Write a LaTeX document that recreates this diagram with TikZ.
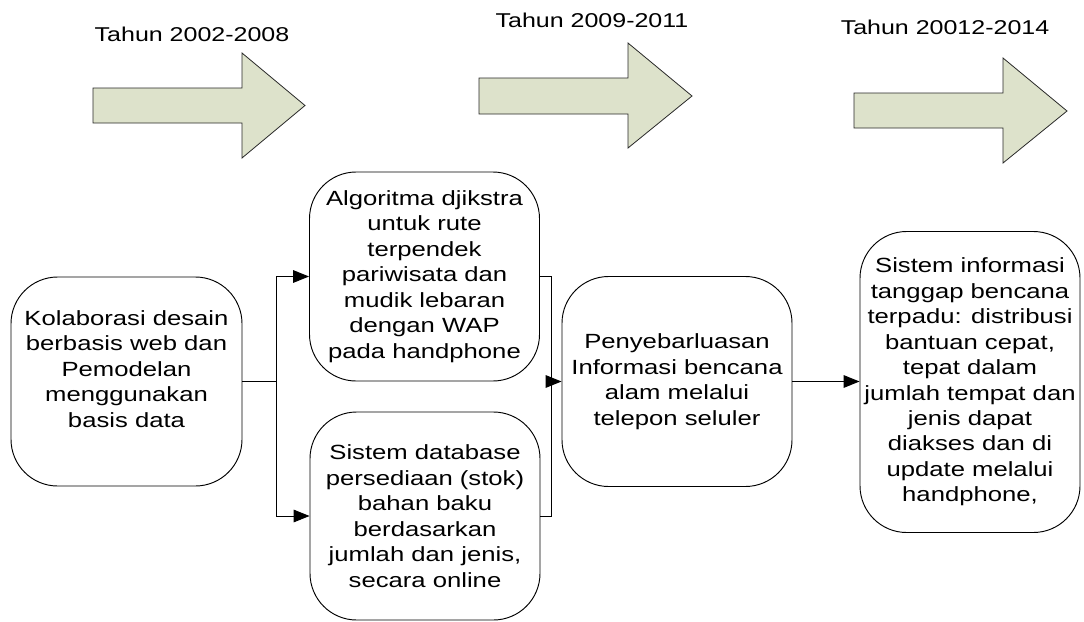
\documentclass[tikz,border=0pt]{standalone}
\usepackage{fontspec}
\setmainfont{Liberation Sans}[FakeStretch=1.25]
\usetikzlibrary{arrows.meta}
\definecolor{arrowfill}{RGB}{221,226,203}
\definecolor{arrowline}{RGB}{40,40,40}
\tikzset{
  rbox/.style={draw=black, line width=0.7pt, rounded corners=35pt, inner sep=0pt,
    align=center, font=\fontsize{15.4pt}{19.1pt}\selectfont},
  yearlabel/.style={anchor=base, inner sep=0pt, font=\fontsize{15pt}{18pt}\selectfont},
  blockarrow/.style={draw=arrowline, line width=0.6pt, fill=arrowfill},
  conn/.style={draw=black, line width=0.7pt},
  arr/.style={conn, -{Triangle[length=12pt,width=9.5pt]}}
}
\begin{document}
\begin{tikzpicture}[x=0.75pt,y=-0.75pt]
\useasboundingbox (0,0) rectangle (1084,621);
% block arrows
\draw[blockarrow] (93,88) -- (242,88) -- (242,53) -- (305,105.5) -- (242,158) -- (242,123) -- (93,123) -- cycle;
\draw[blockarrow] (479,78) -- (628,78) -- (628,43) -- (692,96) -- (628,148) -- (628,114) -- (479,114) -- cycle;
\draw[blockarrow] (854,93) -- (1003,93) -- (1003,58) -- (1067,111) -- (1003,163) -- (1003,128) -- (854,128) -- cycle;
% year labels
\node[yearlabel] (t1) at (192,41.7) {Tahun 2002-2008};
\node[yearlabel] (t2) at (592,27.3) {Tahun 2009-2011};
\node[yearlabel] (t3) at (945,34.3) {Tahun 20012-2014};
% boxes
\node[rbox, minimum width=173.25pt, minimum height=156.75pt] (b1) at (126.5,381.5)
  {Kolaborasi desain\\berbasis web dan\\Pemodelan\\menggunakan\\basis data\\\mbox{}};
\node[rbox, minimum width=172.5pt, minimum height=156.75pt] (b2) at (424.5,276.5)
  {Algoritma djikstra\\untuk rute\\terpendek\\pariwisata dan\\mudik lebaran\\dengan WAP\\pada handphone};
\node[rbox, minimum width=172.5pt, minimum height=156pt] (b3) at (425,516)
  {Sistem database\\persediaan (stok)\\bahan baku\\berdasarkan\\jumlah dan jenis,\\secara online};
\node[rbox, minimum width=172.5pt, minimum height=157.5pt] (b4) at (677,381.5)
  {Penyebarluasan\\Informasi bencana\\alam melalui\\telepon seluler};
\node[rbox, minimum width=165pt, minimum height=225.75pt] (b5) at (970,382)
  {Sistem informasi\\tanggap bencana\\terpadu: distribusi\\bantuan cepat,\\tepat dalam\\jumlah tempat dan\\jenis dapat\\diakses dan di\\update melalui\\handphone,};
% connectors
\coordinate (jl) at (276,381.5);
\coordinate (jr) at (551,381.5);
\draw[conn] (b1.east) -- (jl);
\draw[arr] (jl) |- (b2.west);
\draw[arr] (jl) |- (b3.west);
\draw[conn] (b2.east) -| (jr);
\draw[conn] (b3.east) -| (jr);
\draw[arr] (jr) -- (b4.west);
\draw[arr] (b4.east) -- (b5.west |- b4.east);
\end{tikzpicture}
\end{document}
